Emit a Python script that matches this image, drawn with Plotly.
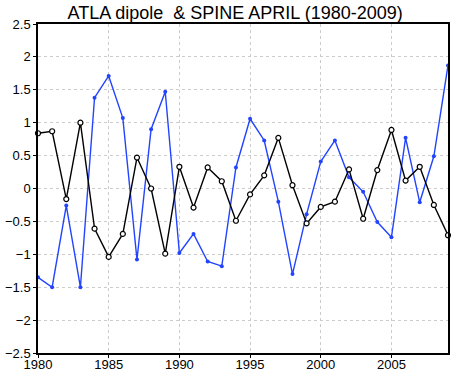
import plotly.graph_objects as go

years = list(range(1980, 2010))
dipole = [0.84, 0.87, -0.16, 1.00, -0.61, -1.04, -0.69, 0.47, 0.00, -0.99,
          0.33, -0.29, 0.32, 0.11, -0.49, -0.09, 0.20, 0.77, 0.05, -0.53,
          -0.28, -0.20, 0.29, -0.46, 0.28, 0.89, 0.12, 0.33, -0.25, -0.71]
spine = [-1.35, -1.50, -0.26, -1.50, 1.38, 1.71, 1.07, -1.08, 0.90, 1.47,
         -0.98, -0.69, -1.11, -1.18, 0.32, 1.06, 0.73, -0.20, -1.30, -0.39,
         0.41, 0.73, 0.17, -0.05, -0.51, -0.74, 0.77, -0.21, 0.49, 1.87]
title = "ATLA dipole\u00a0\u00a0& SPINE APRIL (1980-2009)"
xticks = [1980, 1985, 1990, 1995, 2000, 2005]
yticks = [2.5, 2, 1.5, 1, 0.5, 0, -0.5, -1, -1.5, -2, -2.5]
ylabels = ["2.5", "2", "1.5", "1", "0.5", "0", "\u22120.5", "\u22121", "\u22121.5", "\u22122", "\u22122.5"]

fig = go.Figure()
fig.add_trace(go.Scatter(x=years, y=spine, mode="lines+markers",
                         line=dict(color="#2244ff", width=1.4),
                         marker=dict(color="#2244ff", size=4, symbol="circle"),
                         cliponaxis=False, showlegend=False))
fig.add_trace(go.Scatter(x=years, y=dipole, mode="lines+markers",
                         line=dict(color="black", width=1.4),
                         marker=dict(color="white", size=5, symbol="circle",
                                     line=dict(color="black", width=1.2)),
                         cliponaxis=False, showlegend=False))

fig.update_layout(
    width=454, height=372,
    margin=dict(l=38, r=6, t=24, b=19, autoexpand=False),
    paper_bgcolor="white", plot_bgcolor="white",
    font=dict(family="Liberation Sans, Arial, sans-serif", size=13, color="black"),
    title=dict(text=title, x=0.518, xanchor="center", y=0.966, yanchor="middle",
               font=dict(size=18, color="black")),
    xaxis=dict(range=[1980, 2009], tickvals=xticks, ticktext=[str(t) for t in xticks],
               showgrid=True, gridcolor="#cccccc", griddash="dot", gridwidth=1,
               showline=True, linecolor="black", linewidth=1.5, mirror=True,
               ticks="outside", ticklen=3, tickcolor="black", zeroline=False,
               automargin=False, ticklabelstandoff=-4,
               tickfont=dict(size=13)),
    yaxis=dict(range=[-2.5, 2.5], tickvals=yticks, ticktext=ylabels,
               showgrid=True, gridcolor="#cccccc", griddash="dot", gridwidth=1,
               showline=True, linecolor="black", linewidth=1.5, mirror=True,
               ticks="outside", ticklen=3, tickcolor="black", zeroline=False,
               automargin=False, ticklabelstandoff=0,
               tickfont=dict(size=13)),
)
fig.write_html("out.html", config={"displayModeBar": False},
               post_script="document.body.style.margin='0';")
